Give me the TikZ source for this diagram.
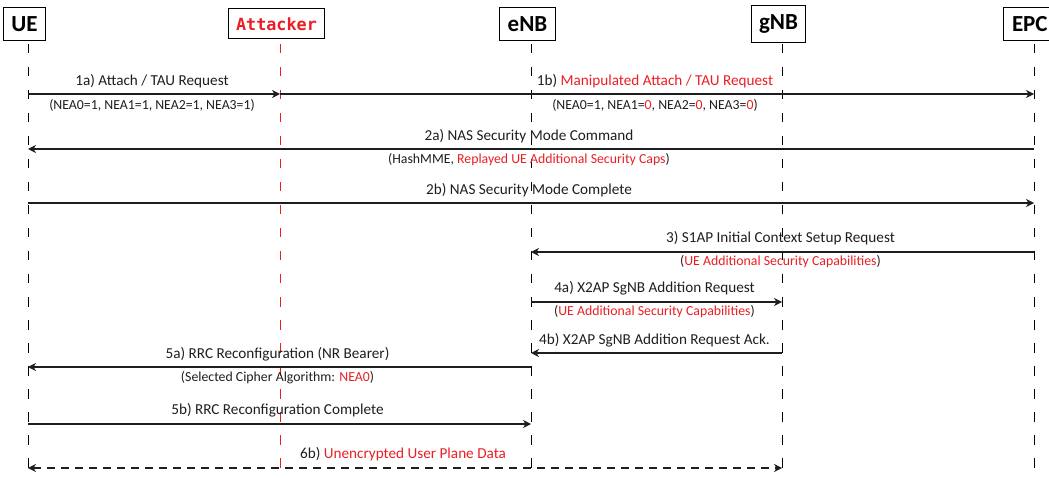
\documentclass[tikz,border=0pt]{standalone}
\usepackage{fontspec}
\setmainfont{Carlito}
\newfontfamily\monofnt{DejaVu Sans Mono}
\usetikzlibrary{arrows.meta}
\definecolor{myred}{RGB}{235,30,35}
\definecolor{ink}{RGB}{30,30,30}
\newcommand{\rd}[1]{\textcolor{myred}{#1}}
\begin{document}
\begin{tikzpicture}[x=1pt,y=-1pt,
  actor/.style={draw, line width=1pt, font=\bfseries\fontsize{23}{25}\selectfont, inner xsep=8pt, inner ysep=9pt, fill=white, xshift=-3.5pt},
  life/.style={line width=0.9pt, dash pattern=on 9.5pt off 13.5pt},
  msg/.style={draw=ink, line width=1.2pt, -{Stealth[length=8pt,width=8pt,inset=2.5pt]}},
  dmsg/.style={draw=ink, line width=1.2pt, {Stealth[length=8pt,width=8pt,inset=2.5pt]}-{Stealth[length=8pt,width=8pt,inset=2.5pt]}, dash pattern=on 8pt off 6pt},
  lbl/.style={font=\fontsize{15.2}{17}\selectfont, text=ink, midway, yshift=13pt, xshift=-2pt, inner sep=0pt},
  sub/.style={font=\fontsize{13.8}{15}\selectfont, text=ink, midway, yshift=-11pt, xshift=-2pt, inner sep=0pt},
]
\useasboundingbox (0,0) rectangle (1049,478);
% actors
\node[actor] (UE) at (28,24) {UE};
\node[actor, font=\monofnt\bfseries\fontsize{16.8}{18}\selectfont, text=myred, inner ysep=8.5pt] (ATT) at (280,24) {Attacker};
\node[actor] (ENB) at (531,24) {eNB};
\node[actor] (GNB) at (782,24) {gNB};
\node[actor, anchor=west, xshift=4pt, inner xsep=9pt] (EPC) at (1002,24) {EPC};
% lifelines
\coordinate (UEt) at (28,44);   \coordinate (UEb) at (28,478);
\coordinate (ATTt) at (280,44); \coordinate (ATTb) at (280,478);
\coordinate (ENBt) at (531,44); \coordinate (ENBb) at (531,478);
\coordinate (GNBt) at (782,44); \coordinate (GNBb) at (782,478);
\coordinate (EPCt) at (1034,44); \coordinate (EPCb) at (1034,478);
\draw[life] (UEt) -- (UEb);
\draw[life, myred] (ATTt) -- (ATTb);
\draw[life] (ENBt) -- (ENBb);
\draw[life] (GNBt) -- (GNBb);
\draw[life] (EPCt) -- (EPCb);
% messages
\draw[msg] (UEt |- 0,94) -- (ATTt |- 0,94)
  node[lbl] {1a) Attach / TAU Request}
  node[sub] {(NEA0=1, NEA1=1, NEA2=1, NEA3=1)};
\draw[msg] (ATTt |- 0,94) -- (EPCt |- 0,94)
  node[lbl] {1b) \rd{Manipulated Attach / TAU Request}}
  node[sub] {(NEA0=1, NEA1=\rd{0}, NEA2=\rd{0}, NEA3=\rd{0})};
\draw[msg] (EPCt |- 0,149) -- (UEt |- 0,149)
  node[lbl] {2a) NAS Security Mode Command}
  node[sub] {(HashMME, \rd{Replayed UE Additional Security Caps})};
\draw[msg] (UEt |- 0,203) -- (EPCt |- 0,203)
  node[lbl] {2b) NAS Security Mode Complete};
\draw[msg] (EPCt |- 0,252) -- (ENBt |- 0,252)
  node[lbl, yshift=1pt] {3) S1AP Initial Context Setup Request}
  node[sub, yshift=1pt] {(\rd{UE Additional Security Capabilities})};
\draw[msg] (ENBt |- 0,302) -- (GNBt |- 0,302)
  node[lbl, yshift=1pt] {4a) X2AP SgNB Addition Request}
  node[sub, yshift=1pt] {(\rd{UE Additional Security Capabilities})};
\draw[msg] (GNBt |- 0,353) -- (ENBt |- 0,353)
  node[lbl] {4b) X2AP SgNB Addition Request Ack.};
\draw[msg] (ENBt |- 0,367) -- (UEt |- 0,367)
  node[lbl] {5a) RRC Reconfiguration (NR Bearer)}
  node[sub] {(Selected Cipher Algorithm: \rd{NEA0})};
\draw[msg] (UEt |- 0,424) -- (ENBt |- 0,424)
  node[lbl, yshift=1pt] {5b) RRC Reconfiguration Complete};
\draw[dmsg] (UEt |- 0,468) -- (GNBt |- 0,468)
  node[lbl, yshift=1pt] {6b) \rd{Unencrypted User Plane Data}};
\end{tikzpicture}
\end{document}
